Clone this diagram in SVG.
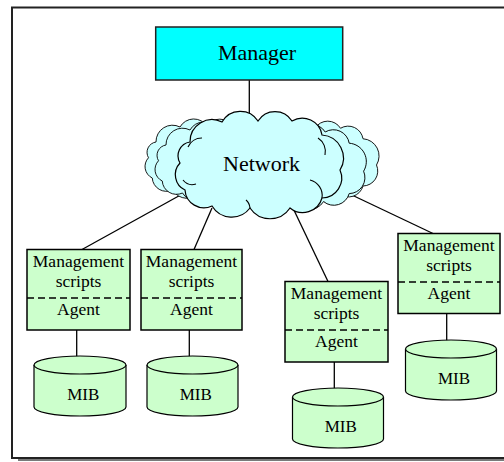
<svg xmlns="http://www.w3.org/2000/svg" width="504" height="462" viewBox="0 0 504 462">
  <style>
    .lbl { font-family: "Liberation Serif", "Times New Roman", serif; fill: #000; text-anchor: middle; }
    .big { font-size: 22px; }
    .sm { font-size: 17.5px; }
    .mib { font-size: 17px; }
    .box { fill: #ccffcc; stroke: #000; stroke-width: 1.5; }
    .sep { stroke: #000; stroke-width: 1.5; stroke-dasharray: 7 4; fill: none; }
    .cyl { fill: #ccffcc; stroke: #000; stroke-width: 1.2; }
    .cloud { fill: #ccffff; stroke: #000; stroke-width: 1.2; }
    .curl { fill: none; stroke: #000; stroke-width: 1.1; }
    .wire { stroke: #000; stroke-width: 1.3; fill: none; }
  </style>
  <defs>
    <!-- scalloped cloud outline, centred on the origin -->
    <path id="cloudShape" d="M-68,-24 A22,22 0 0 1 -36,-44 A21,21 0 0 1 0,-45 A20,20 0 0 1 34,-45 A20,20 0 0 1 64,-31 A23,23 0 0 1 82,4 A20,20 0 0 1 64,32 A20,20 0 0 1 32,42 A24,24 0 0 1 -8,42 A23,23 0 0 1 -46,40 A19,19 0 0 1 -73,24 A17,17 0 0 1 -78,-3 A14,14 0 0 1 -68,-24 Z"/>
  </defs>

  <!-- page frame with drop shadow (runs past the right edge) -->
  <rect x="18" y="11" width="540" height="450" fill="#7a7a7a"/>
  <rect x="12" y="7.5" width="540" height="450.5" fill="#fff" stroke="#222" stroke-width="2"/>

  <!-- connectors -->
  <g id="connectors">
    <line class="wire" x1="249.3" y1="80" x2="249.3" y2="135"/>
    <line class="wire" x1="195" y1="187" x2="82" y2="249.5"/>
    <line class="wire" x1="212" y1="208" x2="194" y2="249.5"/>
    <line class="wire" x1="292" y1="206" x2="328" y2="281.5"/>
    <line class="wire" x1="335" y1="187" x2="433" y2="233.5"/>
    <line class="wire" x1="76.7" y1="330" x2="76.7" y2="357"/>
    <line class="wire" x1="189.3" y1="330" x2="189.3" y2="357"/>
    <line class="wire" x1="334.3" y1="362" x2="334.3" y2="389"/>
    <line class="wire" x1="446.7" y1="313.5" x2="446.7" y2="341"/>
  </g>

  <g id="manager">
    <rect x="155.7" y="27" width="187" height="53" fill="#00ffff" stroke="#222" stroke-width="1.5"/>
    <text class="lbl big" x="257" y="59.5">Manager</text>
  </g>

  <g id="network">
    <use href="#cloudShape" class="cloud" transform="translate(207,160) scale(0.75)"/>
    <use href="#cloudShape" class="cloud" transform="translate(315,162) scale(0.75)"/>
    <use href="#cloudShape" class="cloud" transform="translate(217,163) scale(0.75)"/>
    <use href="#cloudShape" class="cloud" transform="translate(298,168) scale(0.8)"/>
    <use href="#cloudShape" class="cloud" transform="translate(258,166)"/>
    <g transform="translate(258,166)">
      <path class="curl" d="M-70,-19 a15,15 0 0 1 14,-9"/>
      <path class="curl" d="M-75,14 a12,12 0 0 0 13,4"/>
      <path class="curl" d="M52,14 a16,16 0 0 1 12,18"/>
      <path class="curl" d="M60,-28 a16,16 0 0 1 7,17"/>
      <path class="curl" d="M-12,34 a12,12 0 0 1 4,8"/>
    </g>
    <text class="lbl big" x="261.5" y="171">Network</text>
  </g>

  <!-- agent 1 -->
  <g id="agent1">
    <rect class="box" x="27" y="249.5" width="103" height="80.5"/>
    <line class="sep" x1="27" y1="298" x2="130" y2="298"/>
    <text class="lbl sm" x="78.5" y="266.5">Management</text>
    <text class="lbl sm" x="78.5" y="286.5">scripts</text>
    <text class="lbl sm" x="78.5" y="314.5">Agent</text>
  </g>
  <g id="mib1">
    <path class="cyl" d="M34,365 A46,9 0 0 1 126,365 V407 A46,9 0 0 1 34,407 Z"/>
    <path class="cyl" fill="none" d="M34,365 A46,9 0 0 0 126,365"/>
    <text class="lbl mib" x="83.3" y="400">MIB</text>
  </g>

  <!-- agent 2 -->
  <g id="agent2">
    <rect class="box" x="141" y="249.5" width="101" height="80.5"/>
    <line class="sep" x1="141" y1="298" x2="242" y2="298"/>
    <text class="lbl sm" x="191.5" y="266.5">Management</text>
    <text class="lbl sm" x="191.5" y="286.5">scripts</text>
    <text class="lbl sm" x="191.5" y="314.5">Agent</text>
  </g>
  <g id="mib2">
    <path class="cyl" d="M147,365 A45.5,9 0 0 1 238,365 V407 A45.5,9 0 0 1 147,407 Z"/>
    <path class="cyl" fill="none" d="M147,365 A45.5,9 0 0 0 238,365"/>
    <text class="lbl mib" x="195.7" y="400">MIB</text>
  </g>

  <!-- agent 3 -->
  <g id="agent3">
    <rect class="box" x="285" y="281.5" width="103" height="80.5"/>
    <line class="sep" x1="285" y1="330" x2="388" y2="330"/>
    <text class="lbl sm" x="336.5" y="298.5">Management</text>
    <text class="lbl sm" x="336.5" y="318.5">scripts</text>
    <text class="lbl sm" x="336.5" y="346.5">Agent</text>
  </g>
  <g id="mib3">
    <path class="cyl" d="M292.5,397 A45.5,9 0 0 1 383.5,397 V439 A45.5,9 0 0 1 292.5,439 Z"/>
    <path class="cyl" fill="none" d="M292.5,397 A45.5,9 0 0 0 383.5,397"/>
    <text class="lbl mib" x="340.7" y="432">MIB</text>
  </g>

  <!-- agent 4 -->
  <g id="agent4">
    <rect class="box" x="398" y="233.5" width="102" height="80"/>
    <line class="sep" x1="398" y1="282" x2="500" y2="282"/>
    <text class="lbl sm" x="449" y="250.5">Management</text>
    <text class="lbl sm" x="449" y="270.5">scripts</text>
    <text class="lbl sm" x="449" y="298.5">Agent</text>
  </g>
  <g id="mib4">
    <path class="cyl" d="M405.5,349 A45.5,9 0 0 1 496.5,349 V391 A45.5,9 0 0 1 405.5,391 Z"/>
    <path class="cyl" fill="none" d="M405.5,349 A45.5,9 0 0 0 496.5,349"/>
    <text class="lbl mib" x="454" y="384">MIB</text>
  </g>
</svg>
